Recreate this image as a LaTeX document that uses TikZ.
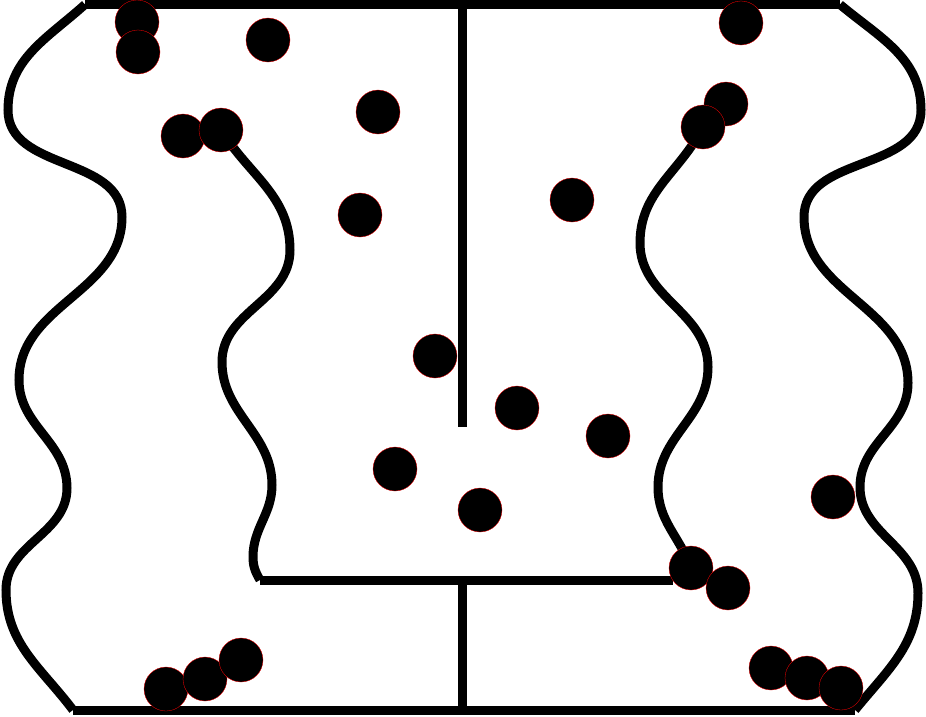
\documentclass[tikz,border=0pt]{standalone}
\usetikzlibrary{backgrounds}

\begin{document}
\begin{tikzpicture}[x=1pt,y=-1pt,
    wall/.style={line width=9pt,black},
    ball/.style={circle,fill=black,draw=red,line width=0.3pt,
                 minimum size=44pt,inner sep=0pt}]
      \useasboundingbox (0,0) rectangle (926,716);

      % Balls
      \foreach \x/\y [count=\i] in {137/22, 138/52, 268/40, 183/136, 221/130,
          378/112, 360/215, 435/356, 517/408, 608/436, 395/469, 480/510,
          572/200, 741/23, 726/104, 703/127, 833/497, 691/568, 728/588,
          771/668, 807/678, 841/688, 166/689, 205/679, 241/660}
        \node[ball] (b\i) at (\x,\y) {};

      % Walls
      \coordinate (tl) at (85,4.5);
      \coordinate (tr) at (840,4.5);
      \coordinate (bl) at (73,710);
      \coordinate (br) at (855,710);
      \coordinate (mt) at (462,4.5);
      \coordinate (mc) at (462,427);
      \coordinate (ml) at (260,580);
      \coordinate (mr) at (673,580);
      \coordinate (mm) at (462,580);
      \coordinate (mb) at (462,710);
      \begin{pgfonlayer}{background}
      \draw[wall] (tl) -- (tr);
      \draw[wall] (bl) -- (br);
      \draw[wall] (mt) -- (mc);
      \draw[wall] (ml) -- (mr);
      \draw[wall] (mm) -- (mb);
      \draw[wall] (tl) to[out=222,in=90] (8,110) to[out=270,in=90] (122,217)
        to[out=270,in=90] (19,380) to[out=270,in=90] (67,488)
        to[out=270,in=90] (6,590) to[out=270,in=127] (bl);
      \draw[wall] (tr) to[out=320,in=90] (921,110) to[out=270,in=90] (804,217)
        to[out=270,in=90] (908,383) to[out=270,in=90] (860,487)
        to[out=270,in=90] (918,593) to[out=270,in=51] (br);
      \draw[wall] (b5.center) to[out=302,in=90] (290,250) to[out=270,in=90] (222,362)
        to[out=270,in=90] (272,485) to[out=270,in=90] (253,557)
        to[out=270,in=120] (ml);
      \draw[wall] (b16.center) to[out=243,in=90] (640,243) to[out=270,in=90] (708,367)
        to[out=270,in=90] (658,487) to[out=270,in=110] (b18.center);
      \end{pgfonlayer}
\end{tikzpicture}
\end{document}
